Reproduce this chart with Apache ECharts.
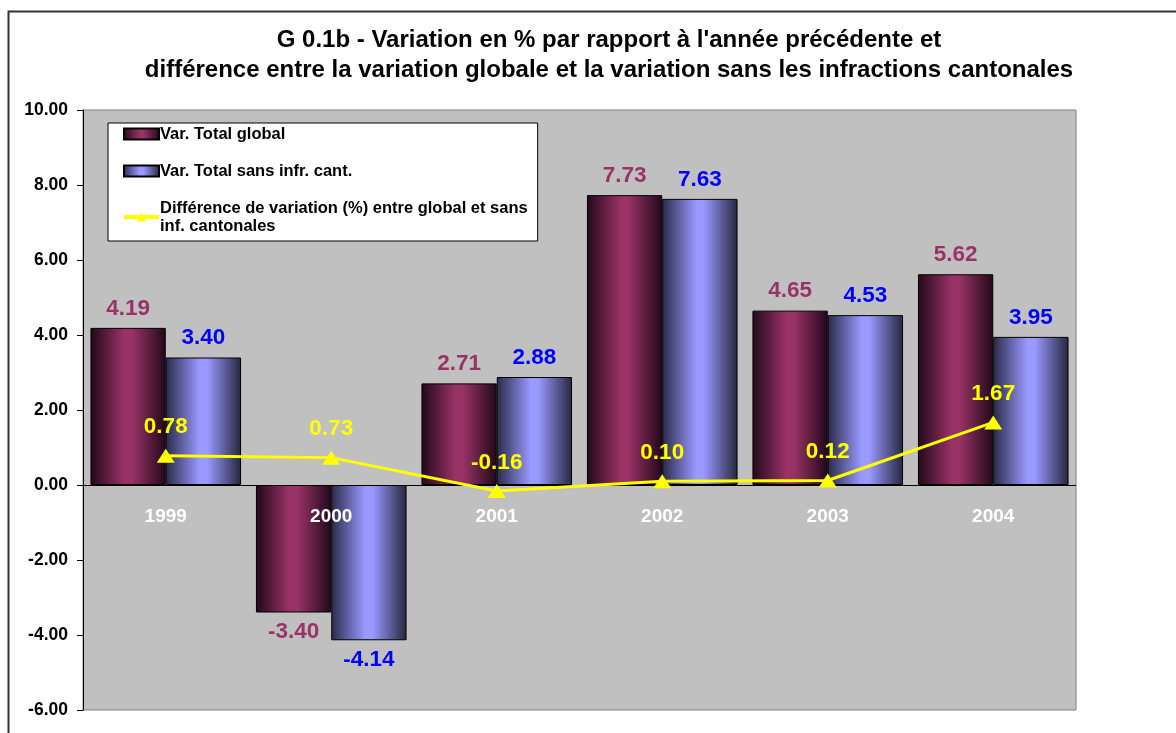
<!DOCTYPE html>
<html>
<head>
<meta charset="utf-8">
<script src="https://cdn.jsdelivr.net/npm/echarts@6/dist/echarts.min.js"></script>
<style>
	html, body { margin: 0; padding: 0; background: #ffffff; }
	#chart { width: 1176px; height: 733px; }
</style>
</head>
<body>
<div id="chart"></div>
<script>
	// données
	var years = ['1999', '2000', '2001', '2002', '2003', '2004'];
	var varGlobal = [4.19, -3.40, 2.71, 7.73, 4.65, 5.62];
	var varSansCant = [3.40, -4.14, 2.88, 7.63, 4.53, 3.95];
	var difference = [0.78, 0.73, -0.16, 0.10, 0.12, 1.67];
	var yTicks = [-6, -4, -2, 0, 2, 4, 6, 8, 10];

	var FONT = '"Liberation Sans", Arial, sans-serif';

	function barGradient(edge, center, edge2) {
		return new echarts.graphic.LinearGradient(0, 0, 1, 0, [
			{ offset: 0, color: edge },
			{ offset: 0.45, color: center },
			{ offset: 0.55, color: center },
			{ offset: 1, color: edge2 }
		]);
	}

	// label au-dessus pour les valeurs positives, en dessous pour les négatives
	function withLabelSide(values) {
		return values.map(function (v) {
			return { value: v, label: { position: v < 0 ? 'bottom' : 'top' } };
		});
	}

	var chart = echarts.init(document.getElementById('chart'), null, { renderer: 'canvas' });

	var option = {
		animation: false,
		backgroundColor: '#ffffff',
		textStyle: { fontFamily: FONT },
		title: {
			text: "G 0.1b - Variation en % par rapport à l'année précédente et\ndifférence entre la variation globale et la variation sans les infractions cantonales",
			left: 604,
			top: 20,
			textAlign: 'center',
			textStyle: { fontFamily: FONT, fontSize: 24, fontWeight: 'bold', color: '#000000', lineHeight: 30 }
		},
		graphic: [{
			type: 'rect',
			shape: { x: 8.5, y: 11.5, width: 1300, height: 900 },
			style: { fill: 'none', stroke: '#333333', lineWidth: 2 },
			silent: true
		}],
		legend: {
			orient: 'vertical',
			left: 108,
			top: 123,
			padding: [2, 10, 6, 14],
			itemGap: 19,
			itemWidth: 35,
			itemHeight: 11,
			backgroundColor: '#ffffff',
			borderColor: '#000000',
			borderWidth: 1,
			borderRadius: 0,
			textStyle: { fontFamily: FONT, fontSize: 16.5, fontWeight: 'bold', color: '#000000', lineHeight: 18, padding: [0, 0, 0, -4] },
			data: [
				{ name: 'Var. Total global', icon: 'rect' },
				{ name: 'Var. Total sans infr. cant.', icon: 'rect' },
				{ name: 'Différence de variation (%) entre global et sans\ninf. cantonales', lineStyle: { width: 4 } }
			]
		},
		grid: {
			left: 83,
			right: 100,
			top: 110,
			bottom: 23,
			outerBoundsMode: 'none',
			show: true,
			backgroundColor: '#c0c0c0',
			borderColor: '#808080',
			borderWidth: 1
		},
		xAxis: {
			type: 'category',
			data: years,
			axisLine: { show: false, onZero: false },
			axisTick: { show: false },
			// étiquettes remontées juste sous la ligne du zéro
			axisLabel: { color: '#ffffff', fontFamily: FONT, fontSize: 19, fontWeight: 'bold', margin: -203 },
			splitLine: { show: false },
			z: 5
		},
		yAxis: {
			type: 'value',
			min: yTicks[0],
			max: yTicks[yTicks.length - 1],
			interval: 2,
			axisLine: { show: true, lineStyle: { color: '#000000', width: 1 } },
			axisTick: { show: true, inside: false, length: 6, lineStyle: { color: '#000000' } },
			axisLabel: {
				color: '#000000', fontFamily: FONT, fontSize: 17.5, fontWeight: 'bold', margin: 15,
				formatter: function (v) { return v.toFixed(2); }
			},
			splitLine: { show: false }
		},
		series: [{
			name: 'Var. Total global',
			type: 'bar',
			data: withLabelSide(varGlobal),
			barGap: '0%',
			barCategoryGap: '9%',
			itemStyle: {
				color: barGradient('#22081a', '#993366', '#22081a'),
				borderColor: '#000000',
				borderWidth: 1
			},
			label: {
				show: true,
				distance: 8,
				color: '#993366',
				fontFamily: FONT,
				fontSize: 22.5,
				fontWeight: 'bold',
				formatter: function (p) { return p.value.toFixed(2); }
			},
			// ligne du zéro
			markLine: {
				silent: true,
				symbol: 'none',
				label: { show: false },
				lineStyle: { color: '#000000', width: 1, type: 'solid' },
				data: [{ yAxis: 0 }]
			}
		}, {
			name: 'Var. Total sans infr. cant.',
			type: 'bar',
			data: withLabelSide(varSansCant),
			itemStyle: {
				color: barGradient('#2a2a48', '#9999ff', '#26263f'),
				borderColor: '#000000',
				borderWidth: 1
			},
			label: {
				show: true,
				distance: 8,
				color: '#0000ff',
				fontFamily: FONT,
				fontSize: 22.5,
				fontWeight: 'bold',
				formatter: function (p) { return p.value.toFixed(2); }
			}
		}, {
			name: 'Différence de variation (%) entre global et sans\ninf. cantonales',
			type: 'line',
			data: difference,
			z: 10,
			symbol: 'triangle',
			symbolSize: [18, 14],
			lineStyle: { color: '#ffff00', width: 3 },
			itemStyle: { color: '#ffff00' },
			label: {
				show: true,
				position: 'top',
				distance: 10,
				color: '#ffff00',
				fontFamily: FONT,
				fontSize: 22.5,
				fontWeight: 'bold',
				formatter: function (p) { return p.value.toFixed(2); }
			}
		}]
	};

	chart.setOption(option);
</script>
</body>
</html>
